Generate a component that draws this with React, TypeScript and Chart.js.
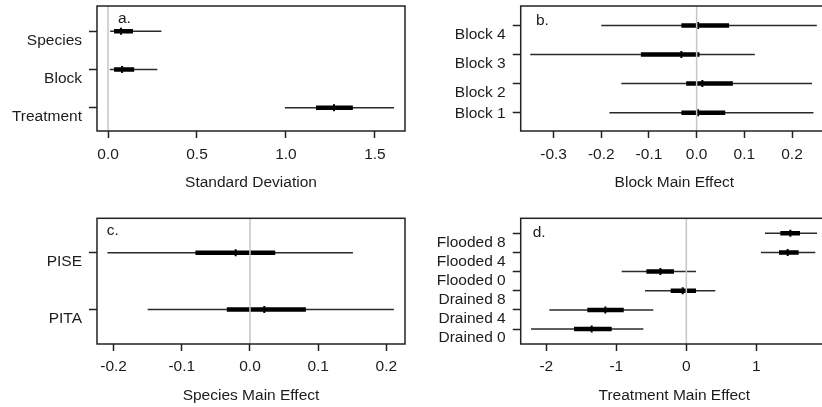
import React, { useEffect, useRef } from 'react';
import { Chart, registerables } from 'chart.js';

Chart.register(...registerables);

const FONT = '"Liberation Sans", Arial, Helvetica, sans-serif';
const TEXT = '#1c1c1c';

// ---- Panel a: standard deviations (rows bottom -> top)
const A_LABELS = ['Treatment', 'Block', 'Species'];
const A_MED = [1.27, 0.079, 0.073];
const A_LO50 = [1.169, 0.034, 0.034];
const A_HI50 = [1.376, 0.147, 0.14];
const A_LO95 = [0.994, 0.01, 0.012];
const A_HI95 = [1.607, 0.277, 0.3];
const A_XTICKS = [0, 0.5, 1.0, 1.5];

// ---- Panel b: block main effects
const B_LABELS = ['Block 1', 'Block 2', 'Block 3', 'Block 4'];
const B_MED = [0.003, 0.012, -0.032, 0.003];
const B_LO50 = [-0.032, -0.022, -0.117, -0.032];
const B_HI50 = [0.06, 0.076, 0.006, 0.068];
const B_LO95 = [-0.183, -0.158, -0.349, -0.2];
const B_HI95 = [0.245, 0.242, 0.122, 0.252];
const B_XTICKS = [-0.3, -0.2, -0.1, 0, 0.1, 0.2];

// ---- Panel c: species main effects
const C_LABELS = ['PITA', 'PISE'];
const C_MED = [0.021, -0.021];
const C_LO50 = [-0.034, -0.08];
const C_HI50 = [0.082, 0.037];
const C_LO95 = [-0.15, -0.209];
const C_HI95 = [0.211, 0.151];
const C_XTICKS = [-0.2, -0.1, 0, 0.1, 0.2];

// ---- Panel d: treatment main effects
const D_LABELS = ['Drained 0', 'Drained 4', 'Drained 8', 'Flooded 0', 'Flooded 4', 'Flooded 8'];
const D_MED = [-1.352, -1.157, -0.052, -0.371, 1.448, 1.486];
const D_LO50 = [-1.604, -1.414, -0.223, -0.571, 1.324, 1.343];
const D_HI50 = [-1.066, -0.894, 0.139, -0.176, 1.605, 1.624];
const D_LO95 = [-2.219, -1.957, -0.59, -0.923, 1.067, 1.124];
const D_HI95 = [-0.614, -0.471, 0.414, 0.139, 1.843, 1.867];
const D_XTICKS = [-2, -1, 0, 1, 2];

type Panel = {
  letter: string; title: string; labels: string[];
  med: number[]; lo50: number[]; hi50: number[]; lo95: number[]; hi95: number[];
  xTicks: number[]; dec: number;
  xMin: number; xMax: number; yMin: number; yMax: number;
  x: number; y: number; w: number; h: number;
  padTop: number; padRight: number; yAxisW: number; xAxisH: number;
  xTickPad: number; titlePadB: number; letterDx: number; letterDy: number;
  labelShift?: number[];
};

const PANELS: Panel[] = [
  {
    letter: 'a.', title: 'Standard Deviation', labels: A_LABELS,
    med: A_MED, lo50: A_LO50, hi50: A_HI50, lo95: A_LO95, hi95: A_HI95,
    xTicks: A_XTICKS, dec: 1, xMin: -0.062, xMax: 1.669, yMin: 0.39, yMax: 3.66,
    x: 0, y: 0, w: 411, h: 200, padTop: 5, padRight: 6, yAxisW: 97, xAxisH: 69,
    xTickPad: 7.5, titlePadB: 7.5, letterDx: 21, letterDy: 16.5,
  },
  {
    letter: 'b.', title: 'Block Main Effect', labels: B_LABELS,
    med: B_MED, lo50: B_LO50, hi50: B_HI50, lo95: B_LO95, hi95: B_HI95,
    xTicks: B_XTICKS, dec: 1, xMin: -0.369, xMax: 0.2755, yMin: 0.37, yMax: 4.67,
    x: 411, y: 0, w: 430, h: 200, padTop: 5.7, padRight: 13, yAxisW: 109.7, xAxisH: 69,
    xTickPad: 7.5, titlePadB: 7.5, letterDx: 15.3, letterDy: 18.8,
    labelShift: [-8, 0, 0, 0],
  },
  {
    letter: 'c.', title: 'Species Main Effect', labels: C_LABELS,
    med: C_MED, lo50: C_LO50, hi50: C_HI50, lo95: C_LO95, hi95: C_HI95,
    xTicks: C_XTICKS, dec: 1, xMin: -0.2243, xMax: 0.2273, yMin: 0.39, yMax: 2.61,
    x: 0, y: 200, w: 411, h: 207, padTop: 18.3, padRight: 6, yAxisW: 97, xAxisH: 63,
    xTickPad: 6.4, titlePadB: 1.7, letterDx: 9.7, letterDy: 16.7,
  },
  {
    letter: 'd.', title: 'Treatment Main Effect', labels: D_LABELS,
    med: D_MED, lo50: D_LO50, hi50: D_HI50, lo95: D_LO95, hi95: D_HI95,
    xTicks: D_XTICKS, dec: 0, xMin: -2.366, xMax: 2.024, yMin: 0.22, yMax: 6.78,
    x: 411, y: 200, w: 430, h: 207, padTop: 18.3, padRight: 13, yAxisW: 109.7, xAxisH: 63,
    xTickPad: 6.4, titlePadB: 1.7, letterDx: 12, letterDy: 18.4,
  },
];

function segs(lo: number[], hi: number[]) {
  const out: any[] = [];
  lo.forEach((l, i) => {
    out.push({ x: l, y: i + 1 }, { x: hi[i], y: i + 1 }, { x: null, y: null });
  });
  return out;
}

const framePlugin = {
  id: 'frameBox',
  afterDatasetsDraw(chart: any, _args: any, opts: any) {
    const { ctx, chartArea: a } = chart;
    ctx.save();
    ctx.strokeStyle = '#222';
    ctx.lineWidth = 1.5;
    ctx.strokeRect(a.left, a.top, a.right - a.left, a.bottom - a.top);
    ctx.fillStyle = TEXT;
    ctx.font = `15.5px ${FONT}`;
    ctx.textBaseline = 'alphabetic';
    ctx.textAlign = 'left';
    ctx.fillText(opts.letter, a.left + opts.dx, a.top + opts.dy);
    ctx.restore();
  },
};

function makeConfig(p: Panel): any {
  const rows = p.labels.map((_, i) => i + 1);
  const font = { family: FONT, size: 15.5 };
  return {
    type: 'scatter',
    data: {
      datasets: [
        {
          data: [{ x: 0, y: p.yMin }, { x: 0, y: p.yMax }],
          showLine: true, borderColor: '#c6c6c6', borderWidth: 1.5, pointRadius: 0, order: 0,
        },
        {
          data: p.med.map((m, i) => ({ x: m, y: rows[i] })),
          showLine: false, pointStyle: 'line', pointRotation: 90, pointRadius: 3.5,
          pointBorderWidth: 2, pointBorderColor: '#000', pointBackgroundColor: '#000', order: 1,
        },
        {
          data: segs(p.lo50, p.hi50),
          showLine: true, borderColor: '#000', borderWidth: 4.5, borderCapStyle: 'butt',
          pointRadius: 0, spanGaps: false, order: 2,
        },
        {
          data: segs(p.lo95, p.hi95),
          showLine: true, borderColor: '#2b2b2b', borderWidth: 1.5, borderCapStyle: 'butt',
          pointRadius: 0, spanGaps: false, order: 3,
        },
      ],
    },
    plugins: [framePlugin],
    options: {
      responsive: false,
      animation: false,
      events: [],
      devicePixelRatio: 1,
      layout: { padding: { top: p.padTop, right: p.padRight, left: 0, bottom: 0 } },
      plugins: {
        legend: { display: false },
        tooltip: { enabled: false },
        frameBox: { letter: p.letter, dx: p.letterDx, dy: p.letterDy },
      },
      scales: {
        x: {
          type: 'linear', position: 'bottom', min: p.xMin, max: p.xMax, bounds: 'data',
          afterBuildTicks: (s: any) => { s.ticks = p.xTicks.map((v) => ({ value: v })); },
          afterFit: (s: any) => {
            s.height = p.xAxisH;
            s.paddingLeft = 0; s.paddingRight = 0; s.paddingTop = 0; s.paddingBottom = 0;
          },
          ticks: {
            callback: (v: any) => Number(v).toFixed(p.dec),
            font, color: TEXT, padding: p.xTickPad, maxRotation: 0, minRotation: 0, autoSkip: false,
          },
          grid: { drawOnChartArea: false, drawTicks: true, tickLength: 7, tickColor: '#222', tickWidth: 1.5 },
          border: { display: false },
          title: { display: true, text: p.title, font, color: TEXT, padding: { top: 0, bottom: p.titlePadB } },
        },
        y: {
          type: 'linear', position: 'left', min: p.yMin, max: p.yMax, bounds: 'data',
          afterBuildTicks: (s: any) => { s.ticks = rows.map((v) => ({ value: v })); },
          afterFit: (s: any) => {
            s.width = p.yAxisW;
            s.paddingLeft = 0; s.paddingRight = 0; s.paddingTop = 0; s.paddingBottom = 0;
            const shifts = p.labelShift;
            if (shifts && !s.__shiftPatched) {
              const orig = s._computeLabelItems.bind(s);
              s._computeLabelItems = (ca: any) => {
                const items = orig(ca);
                items.forEach((it: any, i: number) => {
                  if (it && it.options && it.options.translation && shifts[i]) {
                    it.options.translation = [it.options.translation[0], it.options.translation[1] + shifts[i]];
                  }
                });
                return items;
              };
              s.__shiftPatched = true;
            }
          },
          ticks: {
            callback: (v: any) => p.labels[Math.round(Number(v)) - 1],
            font, color: TEXT, padding: 7, labelOffset: 9, autoSkip: false,
          },
          grid: { drawOnChartArea: false, drawTicks: true, tickLength: 8, tickColor: '#222', tickWidth: 1.5 },
          border: { display: false },
        },
      },
    },
  };
}

function PanelChart({ p }: { p: Panel }) {
  const ref = useRef<HTMLCanvasElement>(null);
  useEffect(() => {
    const chart = new Chart(ref.current as HTMLCanvasElement, makeConfig(p));
    return () => chart.destroy();
  }, [p]);
  return (
    <canvas
      ref={ref}
      width={p.w}
      height={p.h}
      style={{ position: 'absolute', left: p.x, top: p.y, width: p.w, height: p.h }}
    />
  );
}

export default function App() {
  return (
    <div
      style={{
        position: 'fixed', left: 0, top: 0, width: 822, height: 407,
        overflow: 'hidden', background: '#fff',
      }}
    >
      {PANELS.map((p) => (
        <PanelChart key={p.letter} p={p} />
      ))}
    </div>
  );
}
